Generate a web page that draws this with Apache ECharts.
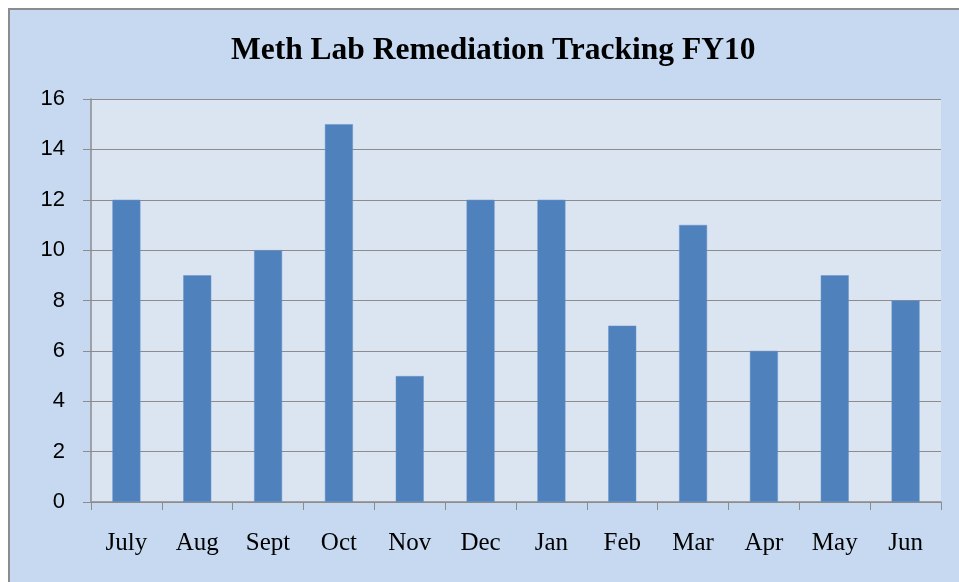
<!DOCTYPE html>
<html>
<head>
<meta charset="utf-8">
<script src="https://cdn.jsdelivr.net/npm/echarts@6/dist/echarts.min.js"></script>
<style>
  html, body { margin: 0; padding: 0; background: #ffffff; overflow: hidden; }
  #frame {
    position: absolute; left: 8px; top: 8px; width: 960px; height: 580px;
    border: 2px solid #8c8c8c; background: #c6d9f0;
  }
  #main { position: absolute; left: 0; top: 0; width: 959px; height: 582px; }
</style>
</head>
<body>
<div id="frame"></div>
<div id="main"></div>
<script>
// months of the fiscal year
const months = ['July', 'Aug', 'Sept', 'Oct', 'Nov', 'Dec', 'Jan', 'Feb', 'Mar', 'Apr', 'May', 'Jun'];
// remediations per month
const labCounts = [12, 9, 10, 15, 5, 12, 12, 7, 11, 6, 9, 8];
const yTicks = [0, 2, 4, 6, 8, 10, 12, 14, 16];

const chart = echarts.init(document.getElementById('main'));
chart.setOption({
  animation: false,
  backgroundColor: 'transparent',
  title: {
    text: 'Meth Lab Remediation Tracking FY10',
    left: 226,
    top: 30,
    textStyle: {
      fontFamily: 'Liberation Serif',
      fontWeight: 'bold',
      fontSize: 31.5,
      color: '#000'
    }
  },
  grid: {
    left: 91, top: 99, width: 850, height: 403,
    show: true, backgroundColor: '#dbe5f1', borderWidth: 0
  },
  xAxis: {
    type: 'category',
    data: months,
    axisLine: { lineStyle: { color: '#8c8c8c', width: 1.5 } },
    axisTick: { show: true, length: 8, lineStyle: { color: '#8c8c8c' } },
    axisLabel: {
      margin: 29,
      fontFamily: 'Liberation Serif',
      fontSize: 25,
      color: '#000'
    }
  },
  yAxis: {
    type: 'value',
    min: yTicks[0],
    max: yTicks[yTicks.length - 1],
    interval: 2,
    axisLine: { show: true, lineStyle: { color: '#8c8c8c', width: 1.5 } },
    axisTick: { show: true, length: 8, lineStyle: { color: '#8c8c8c' } },
    splitLine: { lineStyle: { color: '#8c8c8c', width: 1 } },
    axisLabel: {
      margin: 26,
      fontFamily: 'Liberation Sans',
      fontSize: 22,
      color: '#000'
    }
  },
  series: [{
    type: 'bar',
    data: labCounts,
    barWidth: 28,
    itemStyle: { color: '#4f81bd', borderColor: '#6a95c8', borderWidth: 0.5 }
  }]
});
</script>
</body>
</html>
